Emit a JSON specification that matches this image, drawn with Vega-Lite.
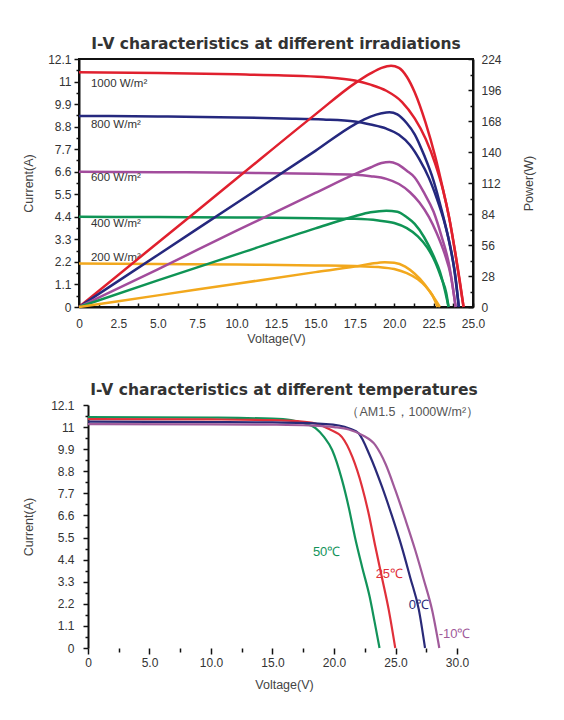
{
  "$schema": "https://vega.github.io/schema/vega-lite/v6.json",
  "background": "white",
  "padding": {"left": 21, "top": 35, "right": 8, "bottom": 8},
  "spacing": 36,
  "config": {
    "font": "Liberation Sans",
    "axis": {
      "labelFont": "Liberation Sans", "labelFontSize": 12, "labelColor": "#333",
      "titleFont": "Liberation Sans", "titleFontSize": 12.5, "titleFontWeight": "normal", "titleColor": "#444",
      "domainColor": "#111", "domainWidth": 2, "tickColor": "#111", "tickWidth": 1.5,
      "grid": false, "labelFlush": false, "labelOverlap": false, "tickCount": 60
    },
    "title": {"font": "DejaVu Sans", "fontSize": 15.5, "fontWeight": "bold", "color": "#333"},
    "view": {"stroke": null}
  },
  "datasets": {
    "iv_irr": [
      {"irr": "1000", "V": 0, "I": 11.45}, {"irr": "1000", "V": 5, "I": 11.42}, {"irr": "1000", "V": 10, "I": 11.35},
      {"irr": "1000", "V": 13, "I": 11.3}, {"irr": "1000", "V": 15.5, "I": 11.22}, {"irr": "1000", "V": 17.5, "I": 11.05},
      {"irr": "1000", "V": 18.5, "I": 10.85}, {"irr": "1000", "V": 19.5, "I": 10.55}, {"irr": "1000", "V": 20.5, "I": 10.0},
      {"irr": "1000", "V": 21.3, "I": 9.2}, {"irr": "1000", "V": 22, "I": 8.2}, {"irr": "1000", "V": 22.6, "I": 7.0},
      {"irr": "1000", "V": 23.1, "I": 5.7}, {"irr": "1000", "V": 23.5, "I": 4.3}, {"irr": "1000", "V": 23.9, "I": 2.5},
      {"irr": "1000", "V": 24.2, "I": 1.0}, {"irr": "1000", "V": 24.4, "I": 0},
      {"irr": "800", "V": 0, "I": 9.32}, {"irr": "800", "V": 5, "I": 9.3}, {"irr": "800", "V": 10, "I": 9.25},
      {"irr": "800", "V": 13, "I": 9.2}, {"irr": "800", "V": 15.5, "I": 9.15}, {"irr": "800", "V": 17.5, "I": 9.05},
      {"irr": "800", "V": 18.5, "I": 8.9}, {"irr": "800", "V": 19.5, "I": 8.7}, {"irr": "800", "V": 20.3, "I": 8.4},
      {"irr": "800", "V": 21, "I": 7.9}, {"irr": "800", "V": 21.6, "I": 7.2}, {"irr": "800", "V": 22.2, "I": 6.3},
      {"irr": "800", "V": 22.7, "I": 5.3}, {"irr": "800", "V": 23.2, "I": 4.1}, {"irr": "800", "V": 23.6, "I": 2.8},
      {"irr": "800", "V": 23.9, "I": 1.4}, {"irr": "800", "V": 24.1, "I": 0},
      {"irr": "600", "V": 0, "I": 6.6}, {"irr": "600", "V": 5, "I": 6.58}, {"irr": "600", "V": 10, "I": 6.55},
      {"irr": "600", "V": 15, "I": 6.5}, {"irr": "600", "V": 17.5, "I": 6.45}, {"irr": "600", "V": 18.5, "I": 6.38},
      {"irr": "600", "V": 19.5, "I": 6.25}, {"irr": "600", "V": 20.3, "I": 6.0}, {"irr": "600", "V": 21, "I": 5.6},
      {"irr": "600", "V": 21.6, "I": 5.1}, {"irr": "600", "V": 22.2, "I": 4.4}, {"irr": "600", "V": 22.7, "I": 3.6},
      {"irr": "600", "V": 23.2, "I": 2.6}, {"irr": "600", "V": 23.6, "I": 1.5}, {"irr": "600", "V": 23.9, "I": 0},
      {"irr": "400", "V": 0, "I": 4.4}, {"irr": "400", "V": 5, "I": 4.39}, {"irr": "400", "V": 10, "I": 4.37},
      {"irr": "400", "V": 15, "I": 4.33}, {"irr": "400", "V": 17.5, "I": 4.3}, {"irr": "400", "V": 19, "I": 4.22},
      {"irr": "400", "V": 20, "I": 4.1}, {"irr": "400", "V": 20.8, "I": 3.85}, {"irr": "400", "V": 21.5, "I": 3.45},
      {"irr": "400", "V": 22.1, "I": 2.9}, {"irr": "400", "V": 22.6, "I": 2.2}, {"irr": "400", "V": 23, "I": 1.4},
      {"irr": "400", "V": 23.3, "I": 0.7}, {"irr": "400", "V": 23.45, "I": 0},
      {"irr": "200", "V": 0, "I": 2.12}, {"irr": "200", "V": 5, "I": 2.1}, {"irr": "200", "V": 10, "I": 2.07},
      {"irr": "200", "V": 15, "I": 2.03}, {"irr": "200", "V": 17.5, "I": 2.0}, {"irr": "200", "V": 19, "I": 1.95},
      {"irr": "200", "V": 20, "I": 1.85}, {"irr": "200", "V": 20.8, "I": 1.65}, {"irr": "200", "V": 21.5, "I": 1.35},
      {"irr": "200", "V": 22, "I": 1.0}, {"irr": "200", "V": 22.4, "I": 0.6}, {"irr": "200", "V": 22.75, "I": 0}
    ],
    "p_irr": [
      {"irr": "1000", "V": 0, "P": 0}, {"irr": "1000", "V": 5, "P": 58}, {"irr": "1000", "V": 10, "P": 116},
      {"irr": "1000", "V": 15, "P": 174}, {"irr": "1000", "V": 17.5, "P": 202}, {"irr": "1000", "V": 18.5, "P": 211},
      {"irr": "1000", "V": 19.2, "P": 216}, {"irr": "1000", "V": 19.8, "P": 218}, {"irr": "1000", "V": 20.3, "P": 216},
      {"irr": "1000", "V": 20.8, "P": 208}, {"irr": "1000", "V": 21.3, "P": 194}, {"irr": "1000", "V": 22, "P": 166},
      {"irr": "1000", "V": 22.6, "P": 136}, {"irr": "1000", "V": 23.1, "P": 106}, {"irr": "1000", "V": 23.5, "P": 80},
      {"irr": "1000", "V": 23.9, "P": 47}, {"irr": "1000", "V": 24.2, "P": 20}, {"irr": "1000", "V": 24.4, "P": 0},
      {"irr": "800", "V": 0, "P": 0}, {"irr": "800", "V": 5, "P": 47}, {"irr": "800", "V": 10, "P": 94},
      {"irr": "800", "V": 15, "P": 141}, {"irr": "800", "V": 17.5, "P": 165}, {"irr": "800", "V": 18.5, "P": 172},
      {"irr": "800", "V": 19.2, "P": 175}, {"irr": "800", "V": 19.7, "P": 176}, {"irr": "800", "V": 20.2, "P": 174},
      {"irr": "800", "V": 20.8, "P": 166}, {"irr": "800", "V": 21.3, "P": 156}, {"irr": "800", "V": 21.9, "P": 137},
      {"irr": "800", "V": 22.5, "P": 114}, {"irr": "800", "V": 23, "P": 88}, {"irr": "800", "V": 23.5, "P": 58},
      {"irr": "800", "V": 23.8, "P": 35}, {"irr": "800", "V": 24.1, "P": 0},
      {"irr": "600", "V": 0, "P": 0}, {"irr": "600", "V": 5, "P": 34}, {"irr": "600", "V": 10, "P": 69},
      {"irr": "600", "V": 15, "P": 103}, {"irr": "600", "V": 17.5, "P": 120}, {"irr": "600", "V": 18.5, "P": 126},
      {"irr": "600", "V": 19.2, "P": 130}, {"irr": "600", "V": 19.7, "P": 131}, {"irr": "600", "V": 20.2, "P": 129},
      {"irr": "600", "V": 20.8, "P": 123}, {"irr": "600", "V": 21.3, "P": 117}, {"irr": "600", "V": 21.9, "P": 103},
      {"irr": "600", "V": 22.5, "P": 86}, {"irr": "600", "V": 23, "P": 64}, {"irr": "600", "V": 23.5, "P": 37},
      {"irr": "600", "V": 23.9, "P": 0},
      {"irr": "400", "V": 0, "P": 0}, {"irr": "400", "V": 5, "P": 24}, {"irr": "400", "V": 10, "P": 47.5},
      {"irr": "400", "V": 15, "P": 71}, {"irr": "400", "V": 17.5, "P": 82}, {"irr": "400", "V": 18.5, "P": 85.5},
      {"irr": "400", "V": 19.5, "P": 87}, {"irr": "400", "V": 20.2, "P": 86}, {"irr": "400", "V": 20.8, "P": 81},
      {"irr": "400", "V": 21.3, "P": 75}, {"irr": "400", "V": 21.9, "P": 63}, {"irr": "400", "V": 22.5, "P": 46},
      {"irr": "400", "V": 22.9, "P": 32}, {"irr": "400", "V": 23.2, "P": 16}, {"irr": "400", "V": 23.45, "P": 0},
      {"irr": "200", "V": 0, "P": 0}, {"irr": "200", "V": 5, "P": 10.5}, {"irr": "200", "V": 10, "P": 21},
      {"irr": "200", "V": 15, "P": 31.5}, {"irr": "200", "V": 17.5, "P": 36.5}, {"irr": "200", "V": 18.5, "P": 39},
      {"irr": "200", "V": 19.4, "P": 40.5}, {"irr": "200", "V": 20, "P": 40}, {"irr": "200", "V": 20.7, "P": 36.5},
      {"irr": "200", "V": 21.3, "P": 30}, {"irr": "200", "V": 21.9, "P": 21}, {"irr": "200", "V": 22.4, "P": 11},
      {"irr": "200", "V": 22.9, "P": 0}
    ],
    "lab_irr": [
      {"irr": "1000", "V": 0.76, "I": 10.9, "label": "1000 W/m²"},
      {"irr": "800", "V": 0.76, "I": 8.9, "label": "800 W/m²"},
      {"irr": "600", "V": 0.76, "I": 6.3, "label": "600 W/m²"},
      {"irr": "400", "V": 0.76, "I": 4.05, "label": "400 W/m²"},
      {"irr": "200", "V": 0.76, "I": 2.4, "label": "200 W/m²"}
    ],
    "iv_temp": [
      {"t": "t50", "V": 0, "I": 11.5}, {"t": "t50", "V": 10, "I": 11.47}, {"t": "t50", "V": 15, "I": 11.42},
      {"t": "t50", "V": 16.5, "I": 11.35}, {"t": "t50", "V": 17.5, "I": 11.2}, {"t": "t50", "V": 18.5, "I": 10.95},
      {"t": "t50", "V": 19.2, "I": 10.5}, {"t": "t50", "V": 19.85, "I": 9.86}, {"t": "t50", "V": 20.65, "I": 8.37},
      {"t": "t50", "V": 21.2, "I": 7.0}, {"t": "t50", "V": 21.7, "I": 5.53}, {"t": "t50", "V": 22.3, "I": 4.0},
      {"t": "t50", "V": 22.9, "I": 2.55}, {"t": "t50", "V": 23.3, "I": 1.3}, {"t": "t50", "V": 23.7, "I": 0},
      {"t": "t25", "V": 0, "I": 11.4}, {"t": "t25", "V": 10, "I": 11.38}, {"t": "t25", "V": 15, "I": 11.35},
      {"t": "t25", "V": 17, "I": 11.3}, {"t": "t25", "V": 18.5, "I": 11.18}, {"t": "t25", "V": 19.6, "I": 10.9},
      {"t": "t25", "V": 20.65, "I": 10.5}, {"t": "t25", "V": 21.5, "I": 9.5}, {"t": "t25", "V": 22.28, "I": 8.03},
      {"t": "t25", "V": 22.85, "I": 6.6}, {"t": "t25", "V": 23.36, "I": 5.05}, {"t": "t25", "V": 23.9, "I": 3.5},
      {"t": "t25", "V": 24.45, "I": 1.9}, {"t": "t25", "V": 24.98, "I": 0},
      {"t": "t0", "V": 0, "I": 11.27}, {"t": "t0", "V": 10, "I": 11.25}, {"t": "t0", "V": 15, "I": 11.23},
      {"t": "t0", "V": 18, "I": 11.2}, {"t": "t0", "V": 20.4, "I": 11.08}, {"t": "t0", "V": 21.3, "I": 10.92},
      {"t": "t0", "V": 22, "I": 10.69}, {"t": "t0", "V": 22.9, "I": 9.6}, {"t": "t0", "V": 23.9, "I": 8.03},
      {"t": "t0", "V": 24.7, "I": 6.6}, {"t": "t0", "V": 25.5, "I": 5.05}, {"t": "t0", "V": 26.2, "I": 3.5},
      {"t": "t0", "V": 26.9, "I": 1.9}, {"t": "t0", "V": 27.4, "I": 0},
      {"t": "tm10", "V": 0, "I": 11.15}, {"t": "tm10", "V": 10, "I": 11.14}, {"t": "tm10", "V": 15, "I": 11.12},
      {"t": "tm10", "V": 18, "I": 11.08}, {"t": "tm10", "V": 20, "I": 11.0}, {"t": "tm10", "V": 21.2, "I": 10.88},
      {"t": "tm10", "V": 22.3, "I": 10.6}, {"t": "tm10", "V": 23.36, "I": 10.1}, {"t": "tm10", "V": 24.2, "I": 9.15},
      {"t": "tm10", "V": 24.98, "I": 7.87}, {"t": "tm10", "V": 25.8, "I": 6.4}, {"t": "tm10", "V": 26.6, "I": 4.88},
      {"t": "tm10", "V": 27.3, "I": 3.4}, {"t": "tm10", "V": 27.97, "I": 1.9}, {"t": "tm10", "V": 28.56, "I": 0}
    ],
    "lab_temp": [
      {"t": "t50", "V": 19.4, "I": 4.8, "label": "50℃"},
      {"t": "t25", "V": 24.5, "I": 3.7, "label": "25℃"},
      {"t": "t0", "V": 26.9, "I": 2.15, "label": "0℃"},
      {"t": "tm10", "V": 29.8, "I": 0.7, "label": "-10℃"}
    ],
    "note_temp": [
      {"V": 31.8, "I": 11.75, "label": "（AM1.5，1000W/m²）"}
    ]
  },
  "vconcat": [
    {
      "width": 394,
      "height": 248,
      "title": {"text": "I-V characteristics at different irradiations", "offset": 1},
      "view": {"stroke": "#111", "strokeWidth": 2},
      "resolve": {"scale": {"y": "independent"}},
      "layer": [
        {
          "layer": [
            {
              "data": {"name": "iv_irr"},
              "mark": {"type": "line", "interpolate": "monotone", "strokeWidth": 2.5},
              "encoding": {
                "x": {
                  "field": "V", "type": "quantitative",
                  "scale": {"domain": [0, 25], "nice": false},
                  "axis": {
                    "title": "Voltage(V)", "titlePadding": 3, "labelOverlap": false, "tickCount": 60,
                    "values": [0, 1.25, 2.5, 3.75, 5, 6.25, 7.5, 8.75, 10, 11.25, 12.5, 13.75, 15, 16.25, 17.5, 18.75, 20, 21.25, 22.5, 23.75, 25],
                    "labelExpr": "datum.value % 2.5 != 0 ? '' : (datum.value == 0 ? '0' : format(datum.value, '.1f'))",
                    "tickSize": -4, "labelPadding": 15
                  }
                },
                "y": {
                  "field": "I", "type": "quantitative",
                  "scale": {"domain": [0, 12.1], "nice": false},
                  "axis": {
                    "title": "Current(A)", "titlePadding": 12, "labelOverlap": false, "tickCount": 60,
                    "values": [0, 0.55, 1.1, 1.65, 2.2, 2.75, 3.3, 3.85, 4.4, 4.95, 5.5, 6.05, 6.6, 7.15, 7.7, 8.25, 8.8, 9.35, 9.9, 10.45, 11, 11.55, 12.1],
                    "labelExpr": "round(datum.value / 0.55) % 2 == 1 ? '' : format(datum.value, '.1~f')",
                    "tickSize": {"condition": {"test": "round(datum.value / 0.55) % 2 == 1", "value": 3}, "value": 5},
                    "labelPadding": 3
                  }
                },
                "color": {
                  "field": "irr", "type": "nominal",
                  "scale": {"domain": ["1000", "800", "600", "400", "200"], "range": ["#e0202e", "#25287e", "#a24c9c", "#0f9455", "#f2a81d"]},
                  "legend": null
                }
              }
            },
            {
              "data": {"name": "lab_irr"},
              "mark": {"type": "text", "align": "left", "baseline": "middle", "fontSize": 11.5, "color": "#333"},
              "encoding": {
                "x": {"field": "V", "type": "quantitative"},
                "y": {"field": "I", "type": "quantitative"},
                "text": {"field": "label"}
              }
            }
          ]
        },
        {
          "data": {"name": "p_irr"},
          "mark": {"type": "line", "interpolate": "monotone", "strokeWidth": 2.5},
          "encoding": {
            "x": {"field": "V", "type": "quantitative"},
            "y": {
              "field": "P", "type": "quantitative",
              "scale": {"domain": [0, 224], "nice": false},
              "axis": {
                "orient": "right", "title": "Power(W)", "titlePadding": 34, "titleAngle": 270, "labelOverlap": false, "tickCount": 60,
                "values": [0, 14, 28, 42, 56, 70, 84, 98, 112, 126, 140, 154, 168, 182, 196, 210, 224],
                "labelExpr": "datum.value % 28 != 0 ? '' : format(datum.value, 'd')",
                "tickSize": {"condition": {"test": "datum.value % 28 != 0", "value": -3}, "value": -5},
                "labelPadding": 13
              }
            },
            "color": {
              "field": "irr", "type": "nominal",
              "scale": {"domain": ["1000", "800", "600", "400", "200"], "range": ["#e0202e", "#25287e", "#a24c9c", "#0f9455", "#f2a81d"]},
              "legend": null
            }
          }
        }
      ]
    },
    {
      "width": 410,
      "height": 243,
      "title": {"text": "I-V characteristics at different temperatures", "offset": 1},
      "resolve": {"scale": {"color": "independent"}},
      "layer": [
        {
          "data": {"name": "iv_temp"},
          "mark": {"type": "line", "interpolate": "monotone", "strokeWidth": 2.2},
          "encoding": {
            "x": {
              "field": "V", "type": "quantitative",
              "scale": {"domain": [-0.73, 32.6], "nice": false},
              "axis": {
                "title": "Voltage(V)", "titlePadding": 10, "labelOverlap": false, "tickCount": 60, "domain": false,
                "values": [0, 2.5, 5, 7.5, 10, 12.5, 15, 17.5, 20, 22.5, 25, 27.5, 30],
                "labelExpr": "datum.value % 5 != 0 ? '' : (datum.value == 0 ? '0' : format(datum.value, '.1f'))",
                "tickSize": {"condition": {"test": "datum.value % 5 != 0", "value": 4}, "value": 6},
                "labelPadding": 3
              }
            },
            "y": {
              "field": "I", "type": "quantitative",
              "scale": {"domain": [0, 12.1], "nice": false},
              "axis": {
                "title": "Current(A)", "titlePadding": 15, "labelOverlap": false, "tickCount": 60, "offset": -9,
                "values": [0, 0.55, 1.1, 1.65, 2.2, 2.75, 3.3, 3.85, 4.4, 4.95, 5.5, 6.05, 6.6, 7.15, 7.7, 8.25, 8.8, 9.35, 9.9, 10.45, 11, 11.55, 12.1],
                "labelExpr": "round(datum.value / 0.55) % 2 == 1 ? '' : format(datum.value, '.1~f')",
                "tickSize": {"condition": {"test": "round(datum.value / 0.55) % 2 == 1", "value": 3}, "value": 5},
                "labelPadding": 9
              }
            },
            "color": {
              "field": "t", "type": "nominal",
              "scale": {"domain": ["t50", "t25", "t0", "tm10"], "range": ["#12935a", "#e0303a", "#2a2a78", "#a05a9a"]},
              "legend": null
            }
          }
        },
        {
          "mark": {"type": "rule", "color": "#111", "strokeWidth": 2},
          "encoding": {
            "x": {"datum": 0, "type": "quantitative"},
            "x2": {"datum": 32.6},
            "y": {"datum": 0, "type": "quantitative"}
          }
        },
        {
          "data": {"name": "lab_temp"},
          "mark": {"type": "text", "align": "center", "baseline": "middle", "fontSize": 13},
          "encoding": {
            "x": {"field": "V", "type": "quantitative"},
            "y": {"field": "I", "type": "quantitative"},
            "text": {"field": "label"},
            "color": {
              "field": "t", "type": "nominal",
              "scale": {"domain": ["t50", "t25", "t0", "tm10"], "range": ["#12935a", "#e0303a", "#2a2a78", "#a05a9a"]},
              "legend": null
            }
          }
        },
        {
          "data": {"name": "note_temp"},
          "mark": {"type": "text", "align": "right", "baseline": "middle", "fontSize": 12.5, "color": "#555"},
          "encoding": {
            "x": {"field": "V", "type": "quantitative"},
            "y": {"field": "I", "type": "quantitative"},
            "text": {"field": "label"}
          }
        }
      ]
    }
  ]
}
